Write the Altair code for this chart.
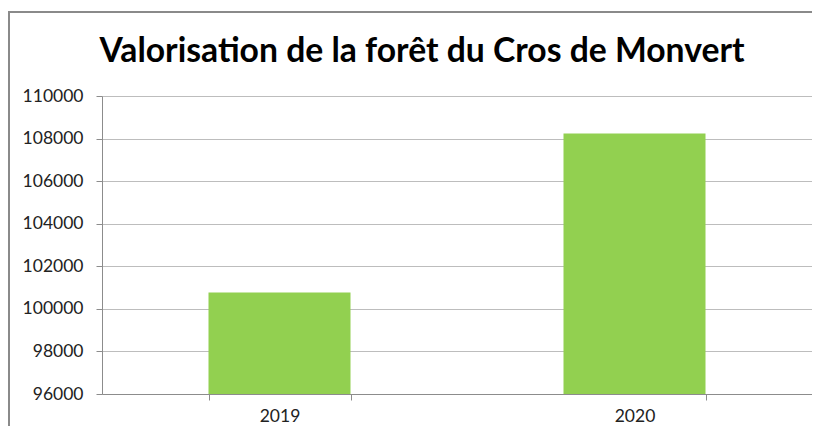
import altair as alt
import pandas as pd

years = ["2019", "2020"]
values = [100770, 108240]
y_ticks = [96000, 98000, 100000, 102000, 104000, 106000, 108000, 110000]
title_text = "Valorisation de la forêt du Cros de Monvert"

df = pd.DataFrame({"annee": years, "valeur": values})

FONT = "Lato"

bars = alt.Chart(df).mark_bar(color="#92D050", clip=True).encode(
    x=alt.X(
        "annee:N",
        sort=years,
        scale=alt.Scale(paddingInner=0.6, paddingOuter=0.3),
        axis=alt.Axis(
            title=None,
            labelAngle=0,
            labelFont=FONT,
            labelFontSize=17.5,
            labelColor="#222222",
            labelPadding=7,
            tickBand="extent",
            tickSize=6,
            tickColor="#8c8c8c",
            domainColor="#8c8c8c",
            grid=False,
        ),
    ),
    y=alt.Y(
        "valeur:Q",
        scale=alt.Scale(domain=[96000, 110000], nice=False, zero=False),
        axis=alt.Axis(
            title=None,
            values=y_ticks,
            format="d",
            labelFont=FONT,
            labelFontSize=17.5,
            labelColor="#222222",
            labelPadding=13,
            tickSize=6,
            tickColor="#8c8c8c",
            domainColor="#8c8c8c",
            gridColor="#bdbdbd",
            gridWidth=1,
        ),
    ),
)

one = alt.Data(values=[{}])

frame_top = alt.Chart(one).mark_rule(
    stroke="#8a8a8a", strokeWidth=2, clip=False
).encode(
    x=alt.value(-94),
    x2=alt.value(760),
    y=alt.value(-84),
)

frame_left = alt.Chart(one).mark_rule(
    stroke="#8a8a8a", strokeWidth=2, clip=False
).encode(
    x=alt.value(-93),
    y=alt.value(-85),
    y2=alt.value(400),
)

title = alt.Chart(one).mark_text(
    font=FONT,
    fontSize=33.7,
    fontWeight="bold",
    color="#000000",
    align="center",
    baseline="alphabetic",
).encode(
    x=alt.value(320),
    y=alt.value(-34),
    text=alt.value(title_text),
)

chart = alt.layer(frame_top, frame_left, bars, title).properties(
    width=710,
    height=298,
    padding={"left": 94, "top": 88, "right": 0, "bottom": 32},
    autosize=alt.AutoSizeParams(type="none"),
).configure_view(strokeWidth=0, stroke="transparent").configure(background="white")

chart.save("out.html", embed_options={"renderer": "svg", "actions": False})
